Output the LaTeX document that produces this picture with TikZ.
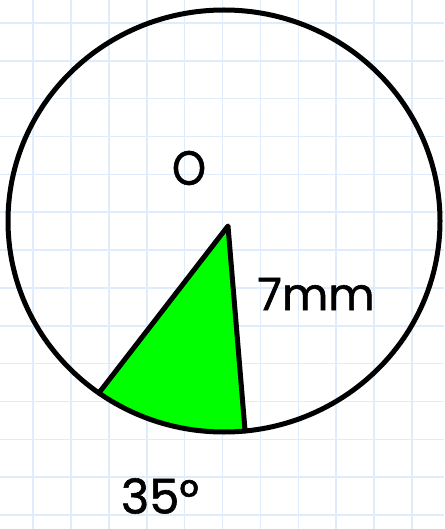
\documentclass[tikz,border=0pt]{standalone}
\usepackage{fontspec}
\setmainfont{Poppins}[FakeBold=1.2]
\definecolor{gridblue}{RGB}{222,236,252}
\definecolor{sectorgreen}{RGB}{0,255,0}
\begin{document}
\begin{tikzpicture}[x=1pt,y=-1pt,
  gridline/.style={draw=gridblue,line width=1.6pt},
  outline/.style={draw=black,line width=5pt,line join=round,line cap=round},
  handtext/.style={font=\fontsize{48}{54}\selectfont,text=black,inner sep=0pt}]
\useasboundingbox[fill=white] (0,0) rectangle (444,529);
% grid
\foreach \k in {0,...,10} \draw[gridline] ({33+37.9*\k},0) -- ({33+37.9*\k},529);
\foreach \k in {0,...,13} \draw[gridline] (0,{23+37.85*\k}) -- (444,{23+37.85*\k});
% key points
\coordinate (C) at (228,226);
\coordinate (A) at ({224+216*cos(125.4)},{221+211*sin(125.4)});
\coordinate (B) at ({224+216*cos(84.4)},{221+211*sin(84.4)});
% sector fill
\fill[sectorgreen] (C) -- (A) -- plot[domain=125.4:84.4,samples=40] ({224+216*cos(\x)},{221+211*sin(\x)}) -- cycle;
% circle
\draw[outline] (224,221) ellipse [x radius=216pt, y radius=211pt];
% radii
\draw[outline] (A) -- (C) -- (B);
% labels
\node[handtext,xscale=0.9] (O) at (189,168) {O};
\node[handtext,font=\fontsize{45}{50}\selectfont] (r) at (316,294) {7mm};
\node[handtext] (ang) at (160,496) {35°};
\end{tikzpicture}
\end{document}
